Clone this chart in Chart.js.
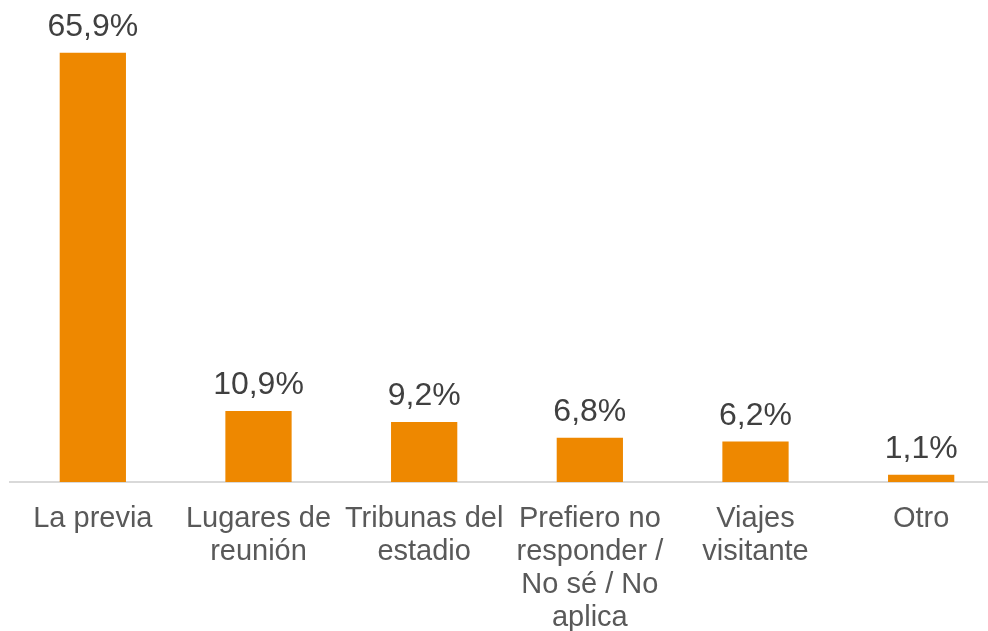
<!DOCTYPE html>
<html lang="es">
<head>
  <meta charset="UTF-8">
  <title>Momentos</title>
  <style>
body {
  margin: 0;
  padding: 0;
  background: #ffffff;
  overflow: hidden;
  font-family: Arial, "Liberation Sans", sans-serif;
}
#wrap {
  width: 1004px;
  height: 631px;
}
  </style>
</head>
<body>
  <div id="wrap">
    <canvas id="chart" width="1004" height="631"></canvas>
  </div>

  <script src="https://cdn.jsdelivr.net/npm/chart.js"></script>
  <script>
    // categories (multi-line as on the original axis)
    const categories = [
      ['La previa'],
      ['Lugares de', 'reunión'],
      ['Tribunas del', 'estadio'],
      ['Prefiero no', 'responder /', 'No sé / No', 'aplica'],
      ['Viajes', 'visitante'],
      ['Otro']
    ];
    const values = [65.9, 10.9, 9.2, 6.8, 6.2, 1.1];

    const FONT = 'Arial, "Liberation Sans", sans-serif';

    // value labels above each bar, e.g. "65,9%"
    const valueLabels = {
      id: 'valueLabels',
      afterDatasetsDraw(chart) {
        const ctx = chart.ctx;
        const meta = chart.getDatasetMeta(0);
        ctx.save();
        ctx.font = '32px ' + FONT;
        ctx.fillStyle = '#404040';
        ctx.textAlign = 'center';
        ctx.textBaseline = 'alphabetic';
        meta.data.forEach((bar, i) => {
          const txt = values[i].toFixed(1).replace('.', ',') + '%';
          ctx.fillText(txt, bar.x, bar.y - 17);
        });
        ctx.restore();
      }
    };

    new Chart(document.getElementById('chart'), {
      type: 'bar',
      data: {
        labels: categories,
        datasets: [{
          data: values,
          backgroundColor: '#EE8800',
          borderWidth: 0,
          categoryPercentage: 1,
          barPercentage: 0.4
        }]
      },
      options: {
        responsive: false,
        animation: false,
        layout: { padding: { left: 10, right: 0, top: 26, bottom: 0 } },
        plugins: {
          legend: { display: false },
          tooltip: { enabled: false }
        },
        scales: {
          x: {
            grid: { display: false, drawTicks: false },
            border: { display: true, color: '#D9D9D9', width: 2 },
            ticks: {
              color: '#595959',
              font: { family: FONT, size: 29, lineHeight: 1.14 },
              padding: 20,
              maxRotation: 0,
              autoSkip: false
            },
            afterFit(scale) { scale.height = 149; }
          },
          y: {
            display: false,
            min: 0,
            max: 70
          }
        }
      },
      plugins: [valueLabels]
    });
  </script>
</body>
</html>
